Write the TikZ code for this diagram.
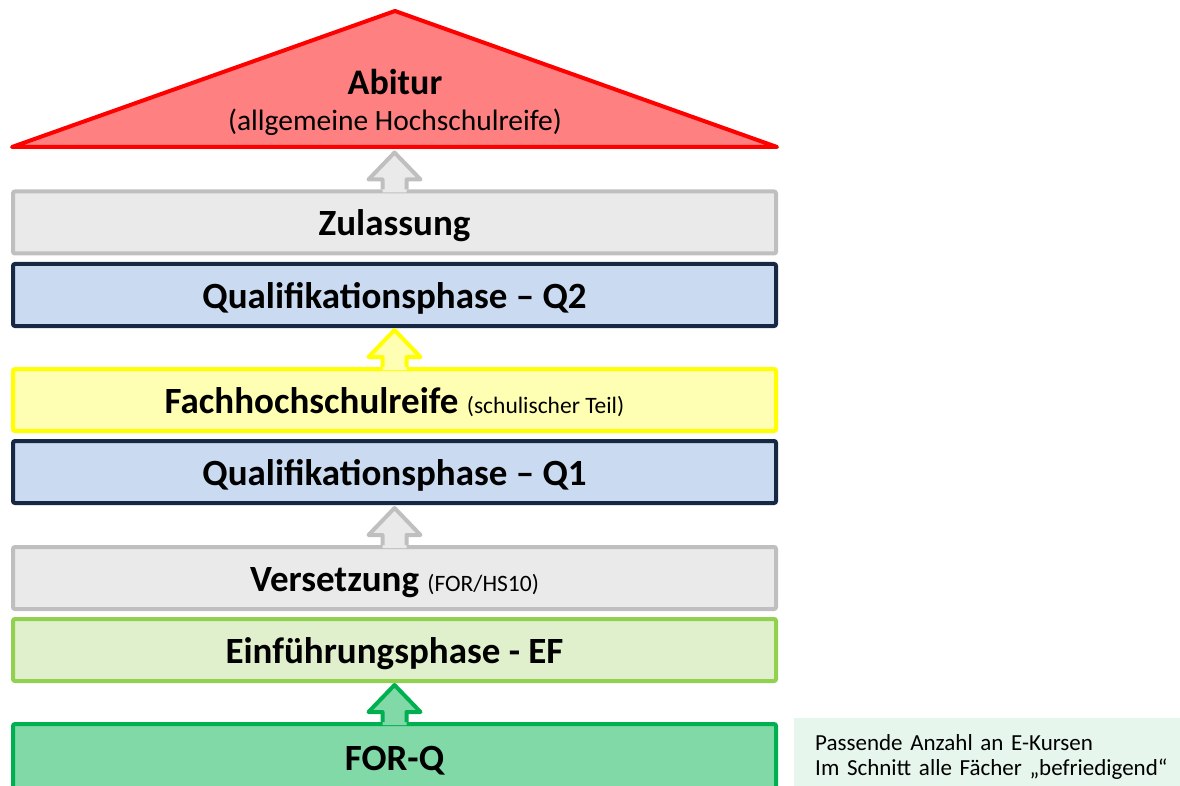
\documentclass[tikz,border=0pt]{standalone}
\usepackage{fontspec}
\setmainfont{Carlito}
\usepackage{tikz}
\usetikzlibrary{calc}
\usepackage{xcolor}
\definecolor{abifill}{RGB}{255,128,128}
\definecolor{abiline}{RGB}{255,0,0}
\definecolor{grayfill}{RGB}{234,234,234}
\definecolor{grayline}{RGB}{191,191,191}
\definecolor{qfill}{RGB}{202,219,241}
\definecolor{qline}{RGB}{22,40,68}
\definecolor{fhrfill}{RGB}{255,255,179}
\definecolor{fhrline}{RGB}{255,255,0}
\definecolor{effill}{RGB}{224,240,204}
\definecolor{efline}{RGB}{146,208,80}
\definecolor{forfill}{RGB}{128,217,166}
\definecolor{forline}{RGB}{0,176,80}
\definecolor{notefill}{RGB}{230,246,236}

\tikzset{
  stage/.style={draw, line width=4pt, rounded corners=2pt, inner sep=0pt,
    minimum width=763pt, minimum height=62pt, text height=30pt, text depth=3pt,
    font=\fontsize{37}{44}\selectfont\bfseries},
  graystage/.style={stage, draw=grayline, fill=grayfill},
  qstage/.style={stage, draw=qline, fill=qfill},
  fhrstage/.style={stage, draw=fhrline, fill=fhrfill},
  efstage/.style={stage, draw=efline, fill=effill},
  forstage/.style={stage, draw=forline, fill=forfill},
  grayarrow/.style={draw=grayline, fill=grayfill},
  fhrarrow/.style={draw=fhrline, fill=fhrfill},
  forarrow/.style={draw=forline, fill=forfill},
}
\newcommand{\smallnote}[1]{{\normalfont\fontsize{23.5}{28}\selectfont #1}}
% block arrow standing on the top edge of a stage box
\newcommand{\stagearrow}[2]{%
  \fill[#1, draw=none] ($(#2.north)+(-12,3)$) -- ++(0,-13) -- ++(-14,0) -- ++(26,-27)
    -- ++(26,27) -- ++(-14,0) -- ++(0,13) -- cycle;
  \draw[#1, fill=none, line width=4pt, line join=round]
    ($(#2.north)+(-12,0)$) -- ++(0,-10) -- ++(-14,0) -- ++(26,-27)
    -- ++(26,27) -- ++(-14,0) -- ++(0,10);
}

\begin{document}
\begin{tikzpicture}[x=1pt, y=-1pt]
  \useasboundingbox (0,0) rectangle (1180,786);

  % Abitur roof
  \draw[abiline, fill=abifill, line width=4pt, line join=round]
    (12,147) -- (395,11) -- (777,147) -- cycle;
  \node[font=\fontsize{36}{42}\selectfont\bfseries] (abitur) at (395,82) {Abitur};
  \node[font=\fontsize{29.5}{34}\selectfont] (abinote) at (395,122) {(allgemeine Hochschulreife)};

  % stages
  \node[graystage] (zul) at (394.5,222.5) {Zulassung};
  \node[qstage] (q2) at (394.5,295) {Qualifikationsphase -- Q2};
  \node[fhrstage] (fhr) at (394.5,400) {Fachhochschulreife \smallnote{(schulischer Teil)}};
  \node[qstage] (q1) at (394.5,472) {Qualifikationsphase -- Q1};
  \node[graystage] (vers) at (394.5,578) {Versetzung \smallnote{(FOR/HS10)}};
  \node[efstage] (ef) at (394.5,650) {Einführungsphase - EF};
  \node[forstage, minimum height=66pt] (forq) at (394.5,757) {FOR-Q};

  \stagearrow{grayarrow}{zul}
  \stagearrow{fhrarrow}{fhr}
  \stagearrow{grayarrow}{vers}
  \stagearrow{forarrow}{forq}

  \node[fill=notefill, anchor=north west, minimum height=78pt,
    inner xsep=21pt, inner ysep=0pt, align=left, text width=370pt,
    font=\fontsize{23}{25}\selectfont] (kriterien) at (794,718)
    {Passende Anzahl an E-Kursen\\Im Schnitt alle Fächer „befriedigend“};
\end{tikzpicture}
\end{document}
